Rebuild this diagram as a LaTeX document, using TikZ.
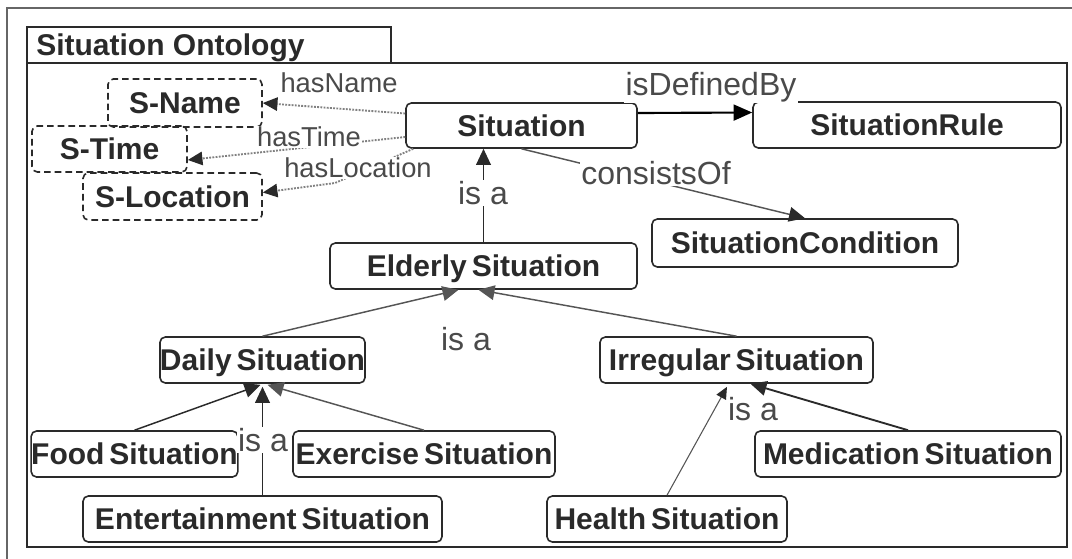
\documentclass[tikz,border=0pt]{standalone}
\usepackage{fontspec}
\setmainfont{Liberation Sans}
\newfontfamily\boxfont{Liberation Sans}[WordSpace=0.6]
\usetikzlibrary{arrows.meta,calc}

\definecolor{ink}{HTML}{2A2A2A}
\definecolor{wire}{HTML}{555555}

\tikzset{
  box/.style={draw=ink, line width=1.2pt, rounded corners=4pt, inner sep=0pt,
    font=\boxfont\bfseries\fontsize{22.5}{24}\selectfont, text=ink,
    text height=16pt, text depth=0pt},
  sz/.style 2 args={minimum width=#1*0.75pt, minimum height=#2*0.75pt},
  attr/.style={box, dash pattern=on 5pt off 3pt},
  lbl/.style={fill=white, inner sep=1pt, font=\fontsize{24}{26}\selectfont, text=ink!85},
  slbl/.style={fill=white, inner sep=1pt, font=\fontsize{20.5}{22}\selectfont, text=ink!85},
  isa/.style={draw=ink, line width=1.1pt, -{Triangle[length=12pt,width=11pt]}},
  thinisa/.style={draw=wire, line width=0.8pt, -{Triangle[length=9pt,width=8pt,color=ink]}},
  prop/.style={draw=black!50, line width=1.4pt, densely dotted,
    -{Triangle[length=11pt,width=10pt,color=ink]}},
}

\begin{document}
\begin{tikzpicture}[x=0.75pt,y=-0.75pt]
\useasboundingbox (0,0) rectangle (1072,558);

% frames
\draw[black!60, line width=1.1pt] (7,570) -- (7,8) -- (1080,8);
\draw[ink, line width=1.5pt] (27,63) rectangle (1067,547);
\draw[ink, line width=1.5pt] (27,27) rectangle (391,63);
\node[anchor=west, inner sep=0pt, font=\bfseries\fontsize{22.5}{24}\selectfont, text=ink,
  text height=16pt, text depth=0pt] (title) at (36,45) {Situation Ontology};

% attribute boxes
\node[attr, sz={154}{48}] (sname) at (185,103) {S-Name};
\node[attr, sz={155}{46}] (stime) at (109.5,149) {S-Time};
\node[attr, sz={179}{47}] (sloc) at (172.5,196.5) {S-Location};

% concept boxes
\node[box, sz={231}{45}] (sit) at (521.5,125.5) {Situation};
\node[box, sz={308}{46}] (rule) at (907,125) {SituationRule};
\node[box, sz={306}{48}] (cond) at (805,243) {SituationCondition};
\node[box, sz={307}{46}] (eld) at (483.5,266) {Elderly Situation};
\node[box, sz={205}{46}] (daily) at (262.5,360) {Daily Situation};
\node[box, sz={273}{46}] (irr) at (736.5,360) {Irregular Situation};
\node[box, sz={205}{46}] (food) at (134.5,454) {Food Situation};
\node[box, sz={262}{46}] (ex) at (424,454) {Exercise Situation};
\node[box, sz={306}{46}] (med) at (908,454) {Medication Situation};
\node[box, sz={359}{46}] (ent) at (262.5,519) {Entertainment Situation};
\node[box, sz={240}{46}] (health) at (667,519) {Health Situation};

% properties of Situation
\draw[prop] ($(sit.west)+(0,-12)$) -- (sname.east);
\draw[prop] ($(sit.west)+(0,11.5)$) -- ($(stime.east)+(0,11)$);
\coordinate (locbend) at (335,183);
\draw[prop] ($(sit.south west)+(8,0)$) -- (locbend) -- ($(sloc.east)+(0,-4)$);

\draw[draw=black, line width=1.6pt, -{Triangle[length=14pt,width=12pt]}]
  ($(sit.east)+(0,-12.5)$) -- ($(rule.west)+(0,-12.5)$);
\draw[draw=wire, line width=1.1pt, -{Triangle[length=12pt,width=11pt,color=ink]}]
  (sit.south) -- (cond.north);

% is-a hierarchy
\draw[isa] (eld.north) -- (eld.north |- sit.south);
\draw[isa, draw=wire] (daily.north) -- ($(eld.south)+(-25,0)$);
\draw[isa, draw=wire] (irr.north) -- ($(eld.south)+(-5,0)$);
\draw[isa] (food.north) -- ($(daily.south)+(-2,1)$);
\draw[isa] (ent.north) -- ($(daily.south)+(0,3)$);
\draw[isa, draw=wire] (ex.north) -- ($(daily.south)+(5,1)$);
\draw[thinisa] (health.north) -- ($(irr.south)+(-9.5,3)$);
\draw[isa, line width=1.4pt] (med.north) -- ($(irr.south)+(14,0)$);

% connector labels
\node[slbl] (lname) at (339,83) {hasName};
\node[slbl] (ltime) at (309,137) {hasTime};
\node[slbl] (lloc) at (358,168) {hasLocation};
\node[lbl] (ldef) at (711,87) {isDefinedBy};
\node[lbl] (lcons) at (656,173) {consistsOf};
\node[lbl] (lisa1) at (483,193) {is a};
\node[lbl] (lisa2) at (466,339) {is a};
\node[lbl] (lisa3) at (263,440) {is a};
\node[lbl] (lisa4) at (753,409) {is a};
\end{tikzpicture}
\end{document}
